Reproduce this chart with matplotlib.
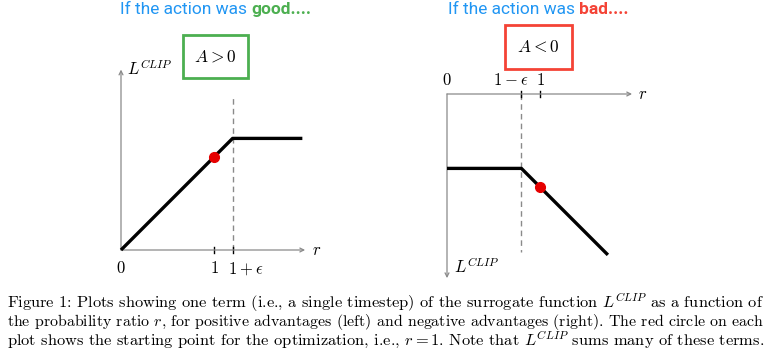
import matplotlib
matplotlib.use("Agg")
import matplotlib.pyplot as plt
from matplotlib.patches import Rectangle

plt.rcParams['mathtext.fontset'] = 'cm'

# ---------------- data ----------------
eps = 0.2
r_pos = [0.0, 1.0 + eps, 1.95]
L_pos = [0.0, 1.0 + eps, 1.0 + eps]
r_neg = [0.0, 1.0 - eps, 1.73]
L_neg = [-(1.0 - eps), -(1.0 - eps), -1.73]
start_r = 1.0
start_pos = 1.0
start_neg = -1.0
ticks_pos = [1.0, 1.0 + eps]
ticks_pos_labels = ["$1$", "$1+\\epsilon$"]
ticks_neg = [1.0 - eps, 1.0]
ticks_neg_labels = ["$1-\\epsilon$", "$1$"]
titles = [("If the action was ", "good...."), ("If the action was ", "bad....")]
caption = [
    "Figure 1: Plots showing one term (i.e., a single timestep) of the surrogate function $L^{CLIP}$ as a function of",
    "the probability ratio $r$, for positive advantages (left) and negative advantages (right). The red circle on each",
    "plot shows the starting point for the optimization, i.e., $r=1$. Note that $L^{CLIP}$ sums many of these terms.",
]

W, H = 773, 360
fig = plt.figure(figsize=(W / 100, H / 100), dpi=100)
S = 93.0  # pixels per data unit


def make_axes(ox, oy, xlim, ylim):
    left = ox + xlim[0] * S
    width = (xlim[1] - xlim[0]) * S
    top = oy - ylim[1] * S
    height = (ylim[1] - ylim[0]) * S
    ax = fig.add_axes([left / W, 1 - (top + height) / H, width / W, height / H])
    ax.set_xlim(*xlim)
    ax.set_ylim(*ylim)
    ax.axis('off')
    return ax


gray = '#8a8a8a'
red = '#e60000'
arrow_kw = dict(arrowstyle='->', color=gray, lw=0.9, shrinkA=0, shrinkB=0,
                mutation_scale=7)

# ---------------- left plot ----------------
axL = make_axes(121, 250, (-0.4, 2.4), (-0.4, 2.3))
axL.annotate('', xy=(1.98, 0), xytext=(0, 0), arrowprops=arrow_kw)
axL.annotate('', xy=(0, 1.94), xytext=(0, 0), arrowprops=arrow_kw)
axL.plot([1 + eps, 1 + eps], [0, 1.67], ls=(0, (4, 3)), color=gray, lw=1.0)
axL.plot(r_pos, L_pos, color='black', lw=2.4, solid_capstyle='butt', zorder=3)
axL.plot([start_r], [start_pos], 'o', color=red, ms=7, zorder=4)
for t in ticks_pos:
    axL.plot([t, t], [-0.035, 0.035], color='black', lw=1.0)
axL.text(ticks_pos[0], -0.1, ticks_pos_labels[0], ha='center', va='top', fontsize=12)
axL.text(ticks_pos[1] - 0.05, -0.1, ticks_pos_labels[1], ha='left', va='top', fontsize=12)
axL.text(0, -0.1, "$0$", ha='center', va='top', fontsize=12)
axL.text(2.05, 0, "$r$", ha='left', va='center', fontsize=12)
axL.text(0.06, 1.88, "$L^{CLIP}$", ha='left', va='baseline', fontsize=12)

# ---------------- right plot ----------------
axR = make_axes(447, 94, (-0.4, 2.4), (-2.3, 0.9))
axR.annotate('', xy=(1.99, 0), xytext=(0, 0), arrowprops=arrow_kw)
axR.annotate('', xy=(0, -1.98), xytext=(0, 0), arrowprops=arrow_kw)
axR.plot([1 - eps, 1 - eps], [0, -1.70], ls=(0, (4, 3)), color=gray, lw=1.0)
axR.plot(r_neg, L_neg, color='black', lw=2.4, solid_capstyle='butt', zorder=3)
axR.plot([start_r], [start_neg], 'o', color=red, ms=7, zorder=4)
for t in ticks_neg:
    axR.plot([t, t], [-0.035, 0.035], color='black', lw=1.0)
axR.text(ticks_neg[0] + 0.075, 0.05, ticks_neg_labels[0], ha='right', va='bottom', fontsize=12)
axR.text(ticks_neg[1], 0.05, ticks_neg_labels[1], ha='center', va='bottom', fontsize=12)
axR.text(0, 0.05, "$0$", ha='center', va='bottom', fontsize=12)
axR.text(2.05, 0, "$r$", ha='left', va='center', fontsize=12)
axR.text(0.07, -1.93, "$L^{CLIP}$", ha='left', va='baseline', fontsize=12)

# ---------------- boxes ----------------
def box(x0, y0, x1, y1, color, label):
    fig.patches.append(Rectangle((x0 / W, 1 - y1 / H), (x1 - x0) / W, (y1 - y0) / H,
                                 transform=fig.transFigure, fill=False,
                                 edgecolor=color, lw=2.0))
    fig.text((x0 + x1) / 2 / W, 1 - (y0 + y1) / 2 / H, label,
             ha='center', va='center', fontsize=12.5)

box(183, 35, 248, 78, '#4caf50', "$A > 0$")
box(505, 25, 572, 69, '#f44336', "$A < 0$")

# ---------------- titles ----------------
fig.canvas.draw()
renderer = fig.canvas.get_renderer()
blue = '#2196f3'
for (plain, bold), x0, x_end, col in zip(titles, [120.5, 448], [311.5, 629],
                                         ['#4caf50', '#f44336']):
    fs = 12.5
    t1 = fig.text(x0 / W, 1 - 14 / H, plain, color=blue, fontsize=fs,
                  family='Roboto', ha='left', va='baseline')
    bb = t1.get_window_extent(renderer)
    t2 = fig.text(bb.x1 / W, 1 - 14 / H, bold, color=col, fontsize=fs,
                  family='Roboto', weight='bold', ha='left', va='baseline')
    total = t2.get_window_extent(renderer).x1 - bb.x0
    fs2 = fs * (x_end - x0) / total
    t1.set_fontsize(fs2)
    bb = t1.get_window_extent(renderer)
    t2.set_fontsize(fs2)
    t2.set_x(bb.x1 / W)

# ---------------- caption ----------------
target = 758.0
for i, line in enumerate(caption):
    y = 1 - (307.5 + i * 18.6) / H
    t = fig.text(7 / W, y, line, fontsize=12, family='cmr10', ha='left', va='baseline')
    w = t.get_window_extent(renderer).width
    t.set_fontsize(12 * target / w)

fig.savefig('out.png', dpi=100)
